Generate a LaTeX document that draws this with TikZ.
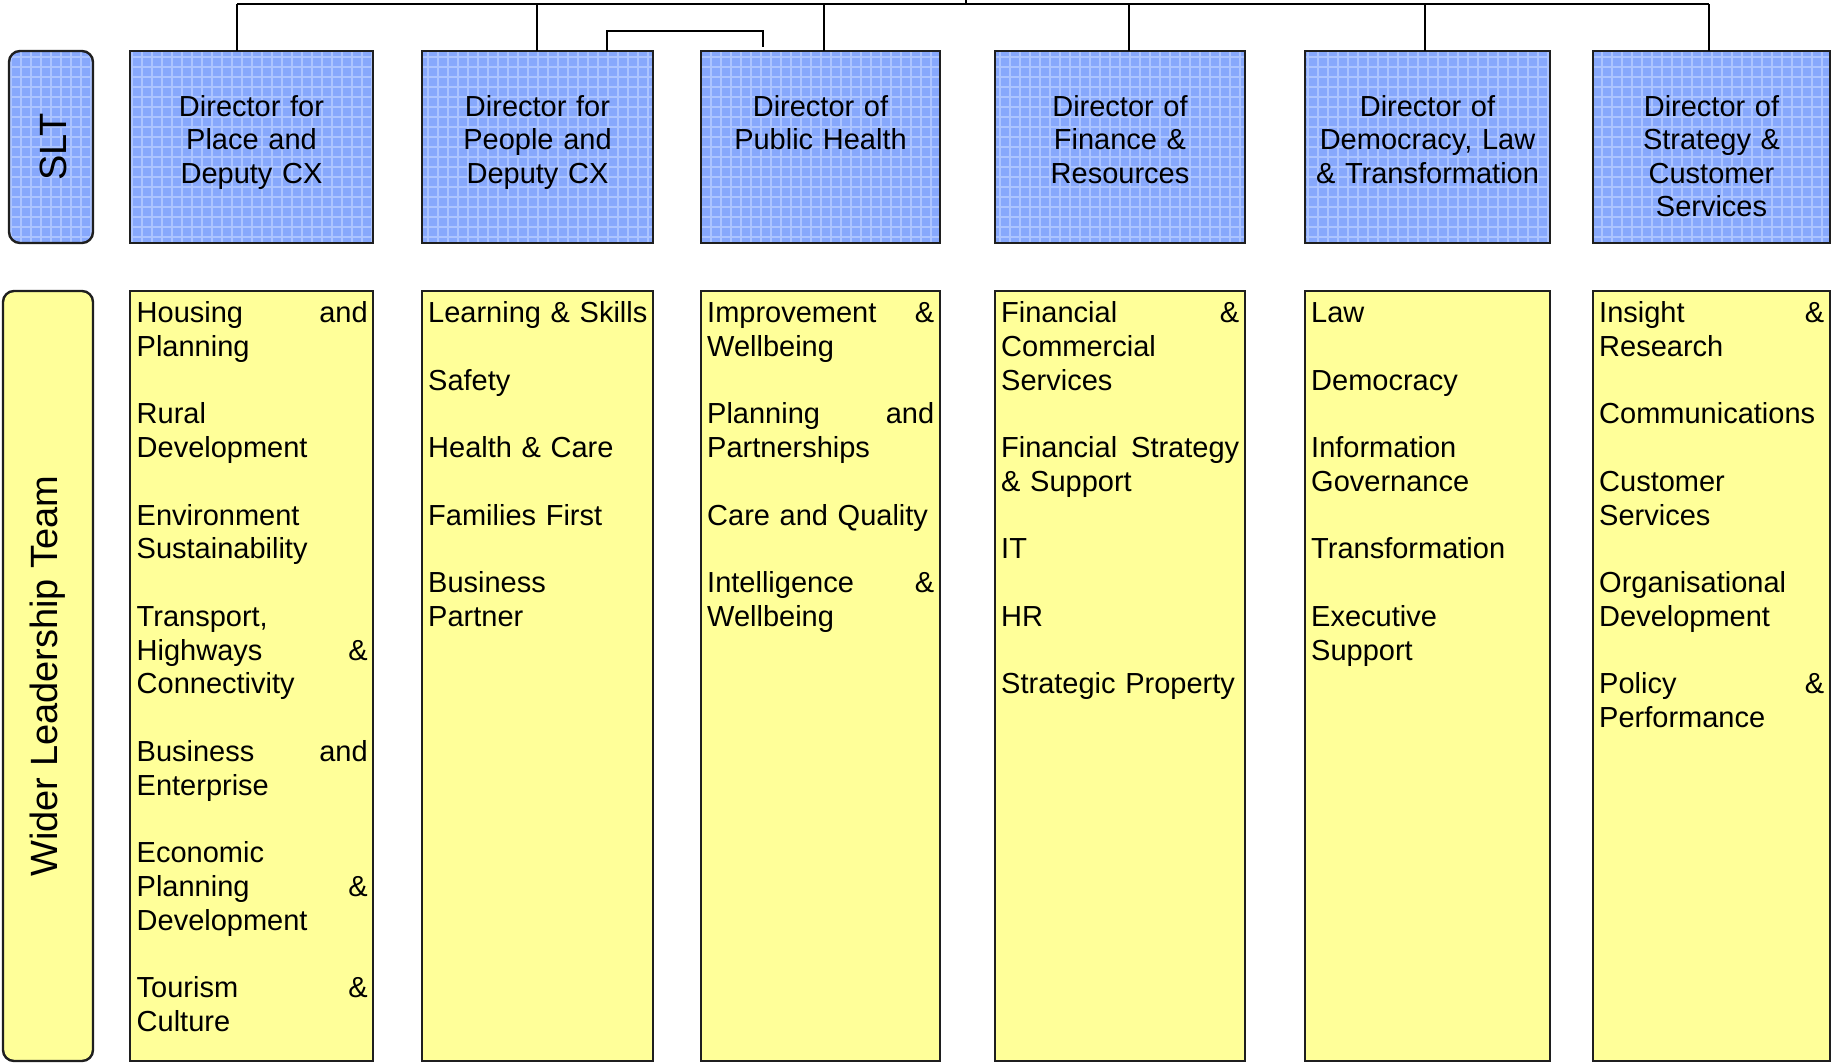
\documentclass[tikz,border=0pt]{standalone}
\usepackage{fontspec}
\setmainfont{Liberation Sans}
\definecolor{slblue}{RGB}{135,168,252}
\definecolor{slgrid}{RGB}{172,196,255}
\definecolor{wlyellow}{RGB}{255,255,153}
\newcommand{\gapline}{\\[\baselineskip]}
\begin{document}
\begin{tikzpicture}[x=1pt,y=-1pt,
  boxline/.style={line width=2.4pt, draw=black!88},
  texture/.style={path picture={\draw[slgrid, line width=2pt] (path picture bounding box.south west) grid[step=10pt] (path picture bounding box.north east);}},
  dirbox/.style={boxline, fill=slblue, texture, inner sep=0pt, outer sep=0pt, anchor=north west, minimum height=192pt},
  wlbox/.style={boxline, fill=wlyellow, inner sep=0pt, outer sep=0pt, anchor=north west, minimum height=770pt},
  dirtext/.style={anchor=base, align=center, inner sep=0pt, font=\fontsize{29}{33.5}\selectfont},
  unittext/.style={anchor=base west, align=left, inner sep=0pt, font=\fontsize{29}{33.75}\selectfont},
  sidetext/.style={rotate=90, inner sep=0pt, font=\fontsize{38}{44}\selectfont},
  conn/.style={line width=2pt, draw=black}
]
\useasboundingbox (0,0) rectangle (1834,1063);

% side labels
\node[dirbox, rounded corners=11pt, minimum width=84pt] (sltbox) at (9,51) {};
\node[sidetext] (slt) at ([xshift=2pt]sltbox.center) {SLT};
\node[wlbox, rounded corners=11pt, minimum width=90pt] (wltbox) at (3,291) {};
\node[sidetext] (wlt) at (wltbox.center) {Wider Leadership Team};

% director boxes
\node[dirbox, minimum width=243pt] (d1) at (130,51) {};
\node[dirbox, minimum width=231pt] (d2) at (422,51) {};
\node[dirbox, minimum width=239pt] (d3) at (701,51) {};
\node[dirbox, minimum width=250pt] (d4) at (995,51) {};
\node[dirbox, minimum width=245pt] (d5) at (1305,51) {};
\node[dirbox, minimum width=237pt] (d6) at (1593,51) {};

\node[dirtext, text width=235pt] (t1) at ([yshift=-65pt]d1.north) {Director for\\Place and\\Deputy CX};
\node[dirtext, text width=223pt] (t2) at ([yshift=-65pt]d2.north) {Director for\\People and\\Deputy CX};
\node[dirtext, text width=231pt] (t3) at ([yshift=-65pt]d3.north) {Director of\\Public Health};
\node[dirtext, text width=242pt] (t4) at ([yshift=-65pt]d4.north) {Director of\\Finance \&\\Resources};
\node[dirtext, text width=240pt] (t5) at ([yshift=-65pt]d5.north) {Director of\\Democracy, Law\\\& Transformation};
\node[dirtext, text width=229pt] (t6) at ([yshift=-65pt]d6.north) {Director of\\Strategy \&\\Customer\\Services};

% unit boxes
\node[wlbox, minimum width=243pt] (u1) at (130,291) {};
\node[wlbox, minimum width=231pt] (u2) at (422,291) {};
\node[wlbox, minimum width=239pt] (u3) at (701,291) {};
\node[wlbox, minimum width=250pt] (u4) at (995,291) {};
\node[wlbox, minimum width=245pt] (u5) at (1305,291) {};
\node[wlbox, minimum width=237pt] (u6) at (1593,291) {};

\node[unittext, text width=231pt] (l1) at ([xshift=6.5pt,yshift=-31.7pt]u1.north west)
 {Housing\hfill and\\Planning\gapline Rural\\Development\gapline Environment\\Sustainability\gapline
  Transport,\\Highways\hfill \&\\Connectivity\gapline Business\hfill and\\Enterprise\gapline
  Economic\\Planning\hfill \&\\Development\gapline Tourism\hfill \&\\Culture};
\node[unittext, text width=220pt] (l2) at ([xshift=6pt,yshift=-31.7pt]u2.north west)
 {Learning \& Skills\gapline Safety\gapline Health \& Care\gapline Families First\gapline Business\\Partner};
\node[unittext, text width=227pt] (l3) at ([xshift=6pt,yshift=-31.7pt]u3.north west)
 {Improvement\hfill \&\\Wellbeing\gapline Planning\hfill and\\Partnerships\gapline Care and Quality\gapline Intelligence\hfill \&\\Wellbeing};
\node[unittext, text width=238pt] (l4) at ([xshift=6pt,yshift=-31.7pt]u4.north west)
 {Financial\hfill \&\\Commercial\\Services\gapline Financial\hfill Strategy\\\& Support\gapline IT\gapline HR\gapline Strategic Property};
\node[unittext, text width=233pt] (l5) at ([xshift=6pt,yshift=-31.7pt]u5.north west)
 {Law\gapline Democracy\gapline Information\\Governance\gapline Transformation\gapline Executive\\Support};
\node[unittext, text width=225pt] (l6) at ([xshift=6pt,yshift=-31.7pt]u6.north west)
 {Insight\hfill \&\\Research\gapline Communications\gapline Customer\\Services\gapline Organisational\\Development\gapline Policy\hfill \&\\Performance};

% connectors
\coordinate (b1) at (237,4);
\coordinate (b2) at (537,4);
\coordinate (b3) at (824,4);
\coordinate (b4) at (1129,4);
\coordinate (b5) at (1425,4);
\coordinate (b6) at (1709,4);
\coordinate (up) at (966,0);
\coordinate (upb) at (966,4);
\draw[conn] (b1) -- (b6);
\draw[conn] (up) -- (upb);
\foreach \i in {1,...,6} { \draw[conn] (b\i) -- (b\i |- d\i.north); }
\coordinate (s1) at (607,31);
\coordinate (s2) at (762.5,31);
\coordinate (s3) at (762.5,47);
\draw[conn] (s1 |- d2.north) -- (s1) -- (s2) -- (s3);
\end{tikzpicture}
\end{document}
